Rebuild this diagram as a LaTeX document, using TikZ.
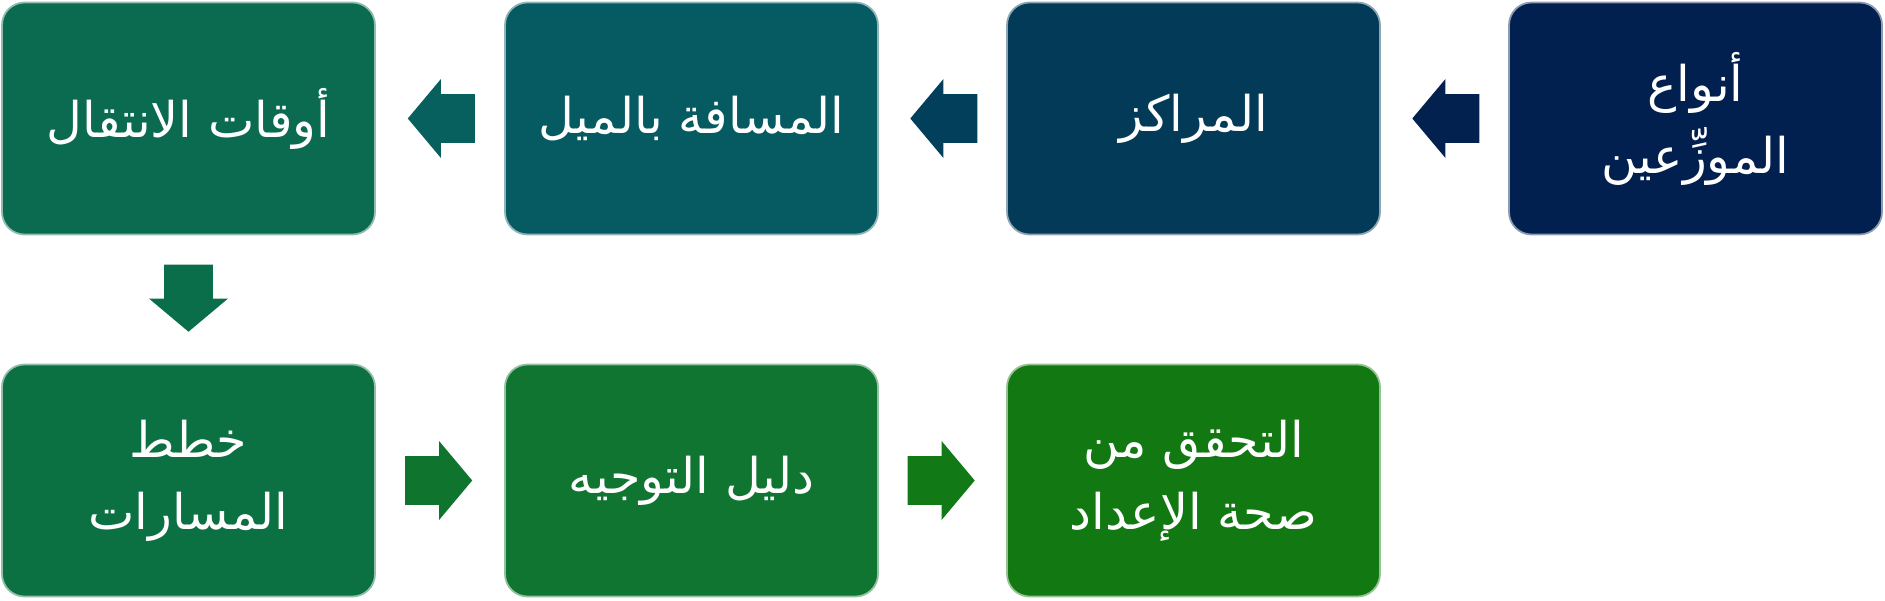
\documentclass[tikz,border=0pt]{standalone}
\usepackage{tikz}
\usetikzlibrary{positioning,arrows}
\usetikzlibrary{shapes}
\usepackage{xcolor}
\usepackage{fontspec}
\TeXXeTstate=1
\newfontfamily\arabicfont[Script=Arabic]{DejaVu Sans}
\newcommand{\ar}[1]{\beginR #1\endR}
\definecolor{c1}{HTML}{011F4F}
\definecolor{c2}{HTML}{023A58}
\definecolor{c3}{HTML}{065A61}
\definecolor{c4}{HTML}{0A6B50}
\definecolor{c5}{HTML}{0B7042}
\definecolor{c6}{HTML}{0F7530}
\definecolor{c7}{HTML}{127812}
\definecolor{a1}{HTML}{03214F}
\definecolor{a2}{HTML}{023F5B}
\definecolor{a3}{HTML}{07605E}
\definecolor{a4}{HTML}{0A6E4A}
\definecolor{a5}{HTML}{0F752E}
\definecolor{a6}{HTML}{117A17}

\begin{document}
\begin{tikzpicture}
	\useasboundingbox (0,0) rectangle (37.7,12);
	\tikzstyle{every node}=[rectangle, rounded corners=0.45cm, line width=1pt, minimum width=7.46cm, minimum height=4.64cm, text=white, font=\arabicfont\fontsize{28}{41}\selectfont, align=center]
	\draw (33.91,9.63) node (p1) [fill=c1, draw=c1!45!white]{\ar{أنواع}\\\ar{الموزِّعين}};
	\draw (23.87,9.63) node (p2) [fill=c2, draw=c2!45!white]{\ar{المراكز}};
	\draw (13.83,9.63) node (p3) [fill=c3, draw=c3!45!white]{\ar{المسافة بالميل}};
	\draw (3.77,9.63) node (p4) [fill=c4, draw=c4!45!white]{\ar{أوقات الانتقال}};
	\draw (3.77,2.39) node (p5) [fill=c5, draw=c5!45!white]{\ar{خطط}\\\ar{المسارات}};
	\draw (13.83,2.39) node (p6) [fill=c6, draw=c6!45!white]{\ar{دليل التوجيه}};
	\draw (23.87,2.39) node (p7) [fill=c7, draw=c7!45!white]{\ar{التحقق من}\\\ar{صحة الإعداد}};
	\tikzstyle{every node}=[single arrow, draw=none, inner xsep=0pt, inner ysep=0.48cm, minimum height=1.34cm, minimum width=1.56cm, single arrow head extend=0.3cm, single arrow tip angle=100]
	\path (p1) to node[fill=a1, shape border rotate=180, xshift=0.23cm] {} (p2);
	\path (p2) to node[fill=a2, shape border rotate=180, xshift=0.23cm] {} (p3);
	\path (p3) to node[fill=a3, shape border rotate=180, xshift=0.23cm] {} (p4);
	\path (p4) to node[fill=a4, shape border rotate=270, inner xsep=0.48cm, inner ysep=0pt, yshift=0.23cm] {} (p5);
	\path (p5) to node[fill=a5, xshift=-0.23cm] {} (p6);
	\path (p6) to node[fill=a6, xshift=-0.23cm] {} (p7);
\end{tikzpicture}
\end{document}
